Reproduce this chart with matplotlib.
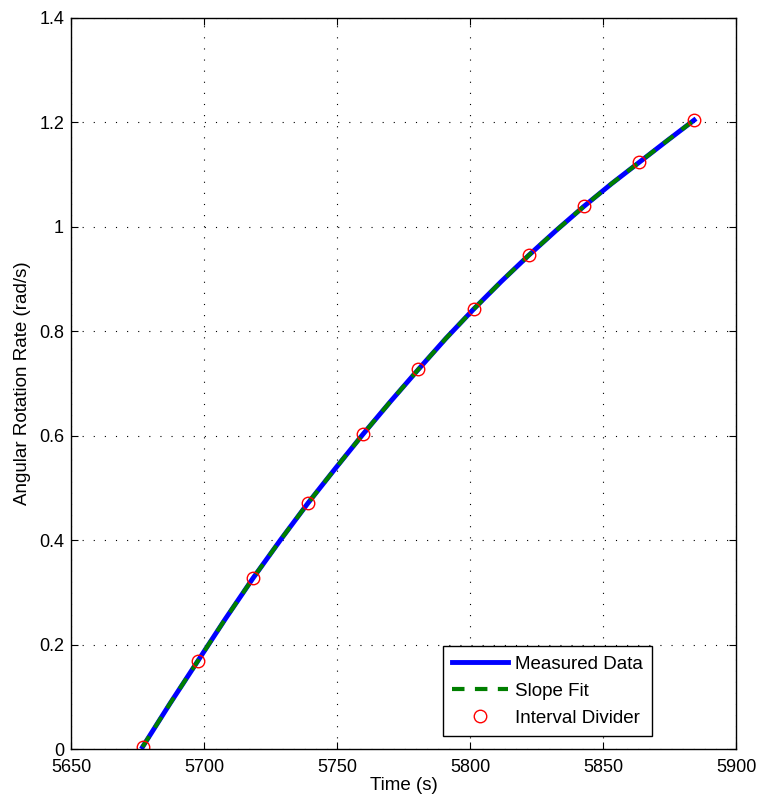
import numpy as np
from matplotlib import pyplot as plt

plt.rcParams['font.family'] = ['Liberation Sans', 'DejaVu Sans']

# interval divider points
divider_time = [5676.9, 5697.6, 5718.4, 5739.1, 5759.8, 5780.6,
                5801.3, 5822.0, 5842.8, 5863.5, 5884.2]
divider_rate = [0.004, 0.168, 0.327, 0.471, 0.603, 0.727,
                0.842, 0.945, 1.039, 1.123, 1.204]

# measured data / slope fit follow the same curve
measured_time = [5676.9, 5687.2, 5697.6, 5708.0, 5718.4, 5728.7, 5739.1,
                 5749.5, 5759.8, 5770.2, 5780.6, 5790.9, 5801.3, 5811.7,
                 5822.0, 5832.4, 5842.8, 5853.1, 5863.5, 5873.9, 5884.2]
measured_rate = [0.004, 0.087, 0.168, 0.249, 0.327, 0.400, 0.471,
                 0.538, 0.603, 0.666, 0.727, 0.786, 0.842, 0.895,
                 0.945, 0.993, 1.039, 1.082, 1.123, 1.164, 1.204]
fit_time = measured_time
fit_rate = measured_rate

fig = plt.figure(figsize=(7.61, 8.08), dpi=100)
ax = fig.add_axes([0.0933, 0.073, 0.874, 0.905])

ax.plot(measured_time, measured_rate, color='#0000ff', linewidth=3.5, label='Measured Data')
ax.plot(fit_time, fit_rate, color='#007f00', linewidth=3, linestyle=(0, (3, 2.5)), label='Slope Fit')
ax.plot(divider_time, divider_rate, linestyle='none', marker='o', markersize=9,
        markerfacecolor='none', markeredgecolor='#ff0000', markeredgewidth=1, label='Interval Divider')

ax.set_xlim(5650, 5900)
ax.set_ylim(0, 1.4)
ax.set_xticks(np.arange(5650, 5901, 50))
ax.set_yticks(np.arange(0, 1.41, 0.2))
ax.set_yticklabels(['0', '0.2', '0.4', '0.6', '0.8', '1', '1.2', '1.4'])
ax.grid(True, color='black', linestyle=(0, (1, 9)), linewidth=0.8)
ax.tick_params(direction='in', top=True, right=True, labelsize=13, length=5, pad=5)
ax.tick_params(axis='x', pad=7)
for s in ax.spines.values():
    s.set_linewidth(1)

ax.set_xlabel('Time (s)', fontsize=13.5, labelpad=1)
ax.set_ylabel('Angular Rotation Rate (rad/s)', fontsize=13.5, labelpad=6)

leg = ax.legend(loc='lower right', bbox_to_anchor=(0.8737, 0.0178), fontsize=13.5, fancybox=False,
                framealpha=1, edgecolor='black', borderpad=0.5, handlelength=3.0,
                handletextpad=0.35, labelspacing=0.52, borderaxespad=0)
leg.get_frame().set_linewidth(1)

fig.savefig('out.png', dpi=100)
